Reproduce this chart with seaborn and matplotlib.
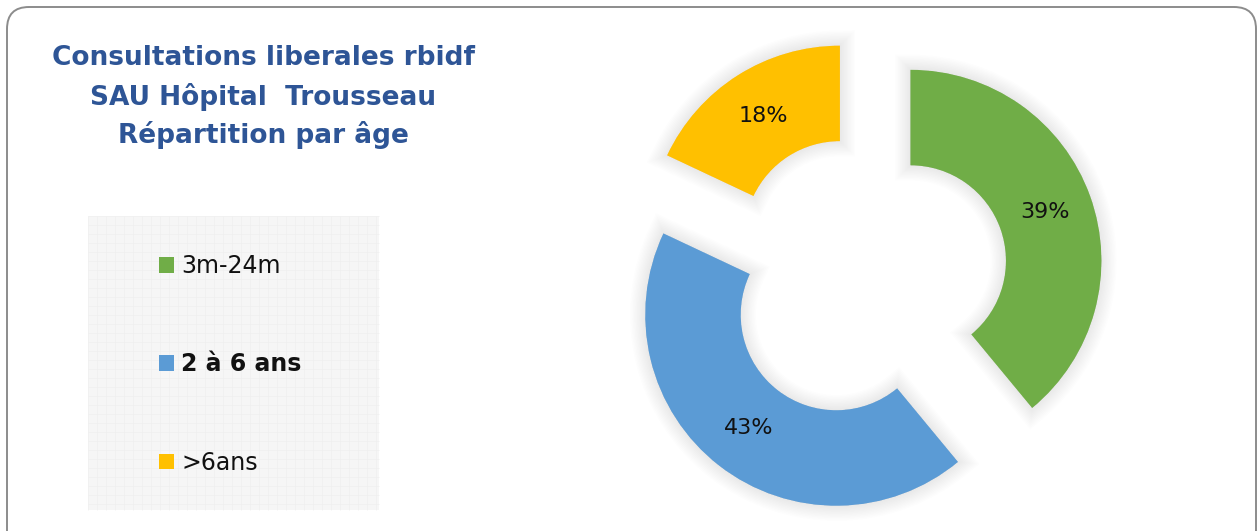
import matplotlib
matplotlib.use("Agg")
import matplotlib.pyplot as plt
import matplotlib.patheffects as pe
from matplotlib.patches import FancyBboxPatch, Rectangle
import seaborn as sns

# Age groups and their share of consultations (%)
categories = ["3m-24m", "2 à 6 ans", ">6ans"]
shares = [39, 43, 18]
title_lines = ["Consultations liberales rbidf", "SAU Hôpital  Trousseau", "Répartition par âge"]

sns.set_theme(style="white")
plt.rcParams["font.family"] = ["DejaVu Sans"]
palette = sns.color_palette(["#70AD47", "#5B9BD5", "#FFC000"])

W, H = 1257, 531
fig = plt.figure(figsize=(W / 100, H / 100), dpi=100)
fig.patch.set_facecolor("white")

# Background layer in pixel units: rounded frame and the legend panel
bg = fig.add_axes([0, 0, 1, 1])
bg.set_xlim(0, W)
bg.set_ylim(H, 0)
bg.axis("off")
bg.add_patch(FancyBboxPatch((7, 7), 1249, 560, boxstyle="round,pad=0,rounding_size=22",
                            facecolor="white", edgecolor="#8C8C8C", linewidth=1.4))
bg.add_patch(Rectangle((88, 216), 291, 294, facecolor="#F6F6F6", edgecolor="none"))
for gx in range(88, 380, 9):
    bg.vlines(gx, 216, 510, color="#EFEFEF", linewidth=0.5)
for gy in range(216, 511, 9):
    bg.hlines(gy, 88, 379, color="#EFEFEF", linewidth=0.5)

# Title
for line, base in zip(title_lines, [65, 105, 143]):
    bg.text(263, base, line, ha="center", va="baseline", fontsize=19,
            fontweight="bold", color="#2E5596")

# Exploded doughnut
cx, cy, R = 865.5, 277, 191
L = 1.5
side = 2 * L * R
ax = fig.add_axes([(cx - side / 2) / W, (H - cy - side / 2) / H, side / W, side / H])
shadow = [pe.Stroke(linewidth=lw, foreground="black", alpha=0.006) for lw in range(22, 0, -2)]
wedges, texts, autotexts = ax.pie(
    shares, colors=palette, startangle=90, counterclock=False,
    explode=[0.25] * len(shares), radius=1,
    wedgeprops=dict(width=0.5, edgecolor="none", linewidth=0),
    autopct="%1.0f%%", pctdistance=0.75,
    textprops=dict(fontsize=16, color="#111111"),
)
ax.set_xlim(-L, L)
ax.set_ylim(-L, L)
ax.set_aspect("equal")
ax.axis("off")

# Legend
leg = fig.legend(wedges, categories, loc="upper left",
                 bbox_to_anchor=(159 / W, 1 - 254 / H), frameon=False,
                 fontsize=17, handlelength=0.65, handleheight=0.65,
                 handletextpad=0.3, labelspacing=3.15, borderpad=0, borderaxespad=0)
for t in leg.get_texts():
    t.set_color("#111111")
leg.get_texts()[1].set_fontweight("bold")

# Soft shadow on the ring segments only
for w in wedges:
    w.set_path_effects(shadow + [pe.Normal()])

fig.savefig("out.png", dpi=100, facecolor="white")
